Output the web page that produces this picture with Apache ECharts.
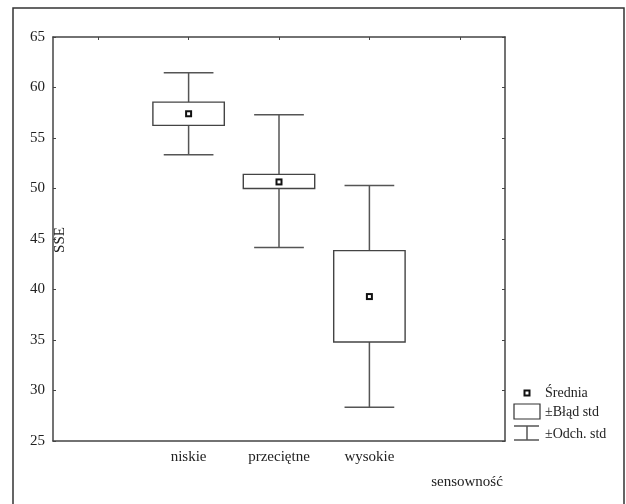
<!DOCTYPE html>
<html>
<head>
<meta charset="utf-8">
<script src="https://cdn.jsdelivr.net/npm/echarts@6/dist/echarts.min.js"></script>
<style>html,body{margin:0;padding:0;background:#fff}#c{width:626px;height:504px}</style>
</head>
<body>
<div id="c"></div>
<script>
var categories = ['', 'niskie', 'przeciętne', 'wysokie', ''];
var groupIndex = [1, 2, 3];
var means = [57.4, 50.65, 39.3];
var seLow = [56.25, 50.0, 34.8];
var seHigh = [58.55, 51.4, 43.85];
var sdLow = [53.35, 44.15, 28.35];
var sdHigh = [61.45, 57.3, 50.3];
var yTicks = [25, 30, 35, 40, 45, 50, 55, 60, 65];

var FONT = '"Liberation Serif", "DejaVu Serif", serif';
var LINE = '#555';

var data = groupIndex.map(function (c, i) {
  return [c, means[i], seLow[i], seHigh[i], sdLow[i], sdHigh[i]];
});

var chart = echarts.init(document.getElementById('c'));
chart.setOption({
  animation: false,
  backgroundColor: '#fff',
  grid: { left: 53, right: 121, top: 37, bottom: 63 },
  xAxis: [{
    type: 'category', data: categories, boundaryGap: true,
    axisLine: { lineStyle: { color: '#444', width: 1.5 } },
    axisTick: { inside: true, alignWithLabel: true, length: 3, lineStyle: { color: '#444' } },
    axisLabel: { color: '#222', fontFamily: FONT, fontSize: 15, margin: 9 }
  }, {
    type: 'category', data: categories, boundaryGap: true, position: 'top',
    axisLine: { show: true, lineStyle: { color: '#444', width: 1.5 } },
    axisTick: { show: true, inside: true, alignWithLabel: true, length: 3, lineStyle: { color: '#444' } },
    axisLabel: { show: false }
  }],
  yAxis: [{
    type: 'value', min: yTicks[0], max: yTicks[yTicks.length - 1], interval: 5,
    axisLine: { show: true, lineStyle: { color: '#444', width: 1.5 } },
    axisTick: { show: true, inside: true, length: 3, lineStyle: { color: '#444' } },
    axisLabel: { color: '#222', fontFamily: FONT, fontSize: 15, margin: 8 },
    splitLine: { show: false }
  }, {
    type: 'value', min: yTicks[0], max: yTicks[yTicks.length - 1], interval: 5, position: 'right',
    axisLine: { show: true, lineStyle: { color: '#444', width: 1.5 } },
    axisTick: { show: true, inside: true, length: 3, lineStyle: { color: '#444' } },
    axisLabel: { show: false },
    splitLine: { show: false }
  }],
  series: [{
    type: 'custom',
    data: data,
    encode: { x: 0, y: [1, 2, 3, 4, 5] },
    renderItem: function (params, api) {
      var x = api.value(0);
      var pm = api.coord([x, api.value(1)]);
      var pseL = api.coord([x, api.value(2)]);
      var pseH = api.coord([x, api.value(3)]);
      var psdL = api.coord([x, api.value(4)]);
      var psdH = api.coord([x, api.value(5)]);
      var band = api.size([1, 0])[0];
      var bw = band * 0.79 / 2;
      var cw = band * 0.55 / 2;
      var cx = pm[0];
      var ls = { stroke: LINE, lineWidth: 1.5, fill: null };
      return {
        type: 'group',
        children: [
          { type: 'line', shape: { x1: cx, y1: psdH[1], x2: cx, y2: pseH[1] }, style: ls },
          { type: 'line', shape: { x1: cx, y1: pseL[1], x2: cx, y2: psdL[1] }, style: ls },
          { type: 'line', shape: { x1: cx - cw, y1: psdH[1], x2: cx + cw, y2: psdH[1] }, style: ls },
          { type: 'line', shape: { x1: cx - cw, y1: psdL[1], x2: cx + cw, y2: psdL[1] }, style: ls },
          { type: 'rect', shape: { x: cx - bw, y: pseH[1], width: 2 * bw, height: pseL[1] - pseH[1] },
            style: { stroke: '#444', lineWidth: 1.4, fill: '#fff' } },
          { type: 'rect', shape: { x: cx - 3.5, y: pm[1] - 3.5, width: 7, height: 7 }, style: { fill: '#111' } },
          { type: 'rect', shape: { x: cx - 1.5, y: pm[1] - 1.5, width: 3, height: 3 }, style: { fill: '#fff' } }
        ]
      };
    }
  }],
  graphic: [
    { type: 'polyline', shape: { points: [[13, 504], [13, 8], [624, 8], [624, 504]] },
      style: { stroke: '#333', lineWidth: 1.5, fill: null } },
    { type: 'text', x: 60, y: 240, rotation: Math.PI / 2,
      style: { text: 'SSE', font: '15px ' + FONT, fill: '#222', align: 'center', verticalAlign: 'middle' } },
    { type: 'text', x: 467, y: 482,
      style: { text: 'sensowność', font: '15px ' + FONT, fill: '#222', align: 'center', verticalAlign: 'middle' } },
    { type: 'rect', shape: { x: 523.5, y: 389.5, width: 7, height: 7 }, style: { fill: '#111' } },
    { type: 'rect', shape: { x: 525.5, y: 391.5, width: 3, height: 3 }, style: { fill: '#fff' } },
    { type: 'text', x: 545, y: 393,
      style: { text: 'Średnia', font: '14px ' + FONT, fill: '#222', verticalAlign: 'middle' } },
    { type: 'rect', shape: { x: 514, y: 404, width: 26, height: 15 }, style: { stroke: '#333', lineWidth: 1.2, fill: '#fff' } },
    { type: 'text', x: 545, y: 412,
      style: { text: '±Błąd std', font: '14px ' + FONT, fill: '#222', verticalAlign: 'middle' } },
    { type: 'line', shape: { x1: 514, y1: 426, x2: 539, y2: 426 }, style: { stroke: LINE, lineWidth: 1.5 } },
    { type: 'line', shape: { x1: 514, y1: 440, x2: 539, y2: 440 }, style: { stroke: LINE, lineWidth: 1.5 } },
    { type: 'line', shape: { x1: 527, y1: 426, x2: 527, y2: 440 }, style: { stroke: LINE, lineWidth: 1.5 } },
    { type: 'text', x: 545, y: 434,
      style: { text: '±Odch. std', font: '14px ' + FONT, fill: '#222', verticalAlign: 'middle' } }
  ]
});
</script>
</body>
</html>
